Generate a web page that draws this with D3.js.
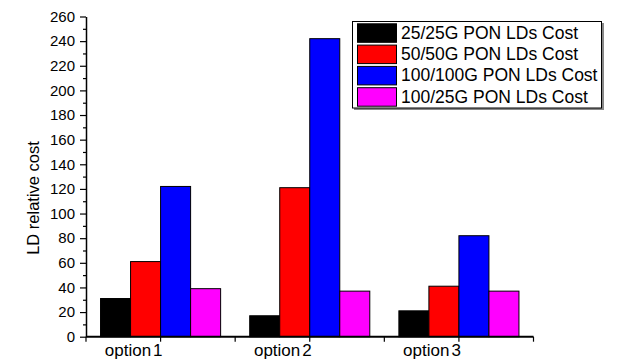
<!DOCTYPE html>
<html>
<head>
<meta charset="utf-8">
<script src="https://cdn.jsdelivr.net/npm/d3@7"></script>
<style>
  html, body { margin: 0; padding: 0; background: #fff; }
  svg { display: block; font-family: Arial, "Liberation Sans", sans-serif; }
</style>
</head>
<body>
<svg id="chart" width="618" height="361"></svg>
<script>
// DATA

const categories = ["option1", "option2", "option3"];
const seriesNames = [
  "25/25G PON LDs Cost",
  "50/50G PON LDs Cost",
  "100/100G PON LDs Cost",
  "100/25G PON LDs Cost"
];
const cost25_25 = [31, 17, 21];
const cost50_50 = [61, 121, 41];
const cost100_100 = [122, 242, 82];
const cost100_25 = [39, 37, 37];
const yTicks = [0, 20, 40, 60, 80, 100, 120, 140, 160, 180, 200, 220, 240, 260];
const colors = ["#000000", "#ff0000", "#0000ff", "#ff00ff"];

const seriesValues = [cost25_25, cost50_50, cost100_100, cost100_25];

// SCALES

const svg = d3.select("#chart");
const plot = { left: 86, right: 533.5, top: 16.5, bottom: 336.7 };

const x = d3.scaleBand()
  .domain(categories)
  .range([plot.left, plot.right])
  .padding(0);

// four bars of equal width, grouped in the middle of each band
const groupW = x.bandwidth() * 0.805;
const x1 = d3.scaleBand()
  .domain(seriesNames)
  .range([(x.bandwidth() - groupW) / 2, (x.bandwidth() + groupW) / 2])
  .padding(0);

const y = d3.scaleLinear()
  .domain([0, 260])
  .range([plot.bottom, plot.top]);

// BARS

const groups = svg.append("g")
  .selectAll("g")
  .data(categories)
  .join("g")
  .attr("transform", (c) => `translate(${x(c)},0)`);

groups.selectAll("rect")
  .data((c, ci) => seriesNames.map((s, si) => ({ s, si, v: seriesValues[si][ci] })))
  .join("rect")
  .attr("x", (d) => x1(d.s))
  .attr("y", (d) => y(d.v))
  .attr("width", x1.bandwidth())
  .attr("height", (d) => y(0) - y(d.v))
  .attr("fill", (d) => colors[d.si])
  .attr("stroke", "#000")
  .attr("stroke-width", 1);

// AXES

// y axis: labelled major ticks, short minor ticks in between
const minorY = d3.range(10, 260, 20);
const yMinor = svg.append("g")
  .attr("transform", `translate(${plot.left},0)`)
  .call(d3.axisLeft(y).tickValues(minorY).tickSize(3).tickFormat(""));
yMinor.select(".domain").remove();

const yAxis = svg.append("g")
  .attr("transform", `translate(${plot.left},0)`)
  .call(d3.axisLeft(y).tickValues(yTicks).tickSize(6).tickSizeOuter(0).tickPadding(5));
yAxis.select(".domain").attr("stroke-width", 1.5);
yAxis.selectAll("text")
  .attr("font-size", 15)
  .attr("fill", "#000")
  .attr("font-family", "Arial, 'Liberation Sans', sans-serif");
svg.selectAll(".tick line").attr("stroke", "#000").attr("stroke-width", 1.2);

// x axis: ticks at category centres and at band edges
const xEdges = [0, 1, 2, 3].map((i) => plot.left + i * x.step());
const xAxisG = svg.append("g");
xAxisG.append("line")
  .attr("x1", plot.left).attr("x2", plot.right)
  .attr("y1", y(0)).attr("y2", y(0))
  .attr("stroke", "#000").attr("stroke-width", 2);

const tickXs = xEdges.concat(categories.map((c) => x(c) + x.bandwidth() / 2));
xAxisG.selectAll("line.xtick")
  .data(tickXs)
  .join("line")
  .attr("class", "xtick")
  .attr("x1", (d) => d).attr("x2", (d) => d)
  .attr("y1", y(0)).attr("y2", y(0) + 5)
  .attr("stroke", "#000").attr("stroke-width", 1.2);

xAxisG.selectAll("text")
  .data(categories)
  .join("text")
  .attr("x", (c) => x(c) + x.bandwidth() / 2 + 2)
  .attr("y", 356)
  .attr("text-anchor", "end")
  .attr("font-size", 17)
  .attr("fill", "#000")
  .each(function (c) {
    const t = d3.select(this);
    t.append("tspan").text(c.slice(0, -1));
    t.append("tspan").attr("dx", 2).text(c.slice(-1));
  });

// y axis title
svg.append("text")
  .attr("transform", "translate(39,198) rotate(-90)")
  .attr("text-anchor", "middle")
  .attr("font-size", 16.5)
  .attr("fill", "#000")
  .text("LD relative cost");

// LEGEND

const legend = svg.append("g");
legend.append("rect")
  .attr("x", 354).attr("y", 23).attr("width", 250).attr("height", 87)
  .attr("fill", "#888");
legend.append("rect")
  .attr("x", 352.5).attr("y", 21.5).attr("width", 249).attr("height", 86.5)
  .attr("fill", "#fff").attr("stroke", "#000").attr("stroke-width", 1);

const rowH = 21.3;
const rows = legend.selectAll("g.row")
  .data(seriesNames)
  .join("g")
  .attr("class", "row")
  .attr("transform", (d, i) => `translate(0,${23.3 + i * rowH})`);

rows.append("rect")
  .attr("x", 357.5).attr("y", 0.5)
  .attr("width", 39).attr("height", 18.5)
  .attr("fill", (d, i) => colors[i])
  .attr("stroke", "#000").attr("stroke-width", 1);

rows.append("text")
  .attr("x", 401)
  .attr("y", 15.5)
  .attr("font-size", 17.5)
  .attr("fill", "#000")
  .text((d) => d);
</script>
</body>
</html>
